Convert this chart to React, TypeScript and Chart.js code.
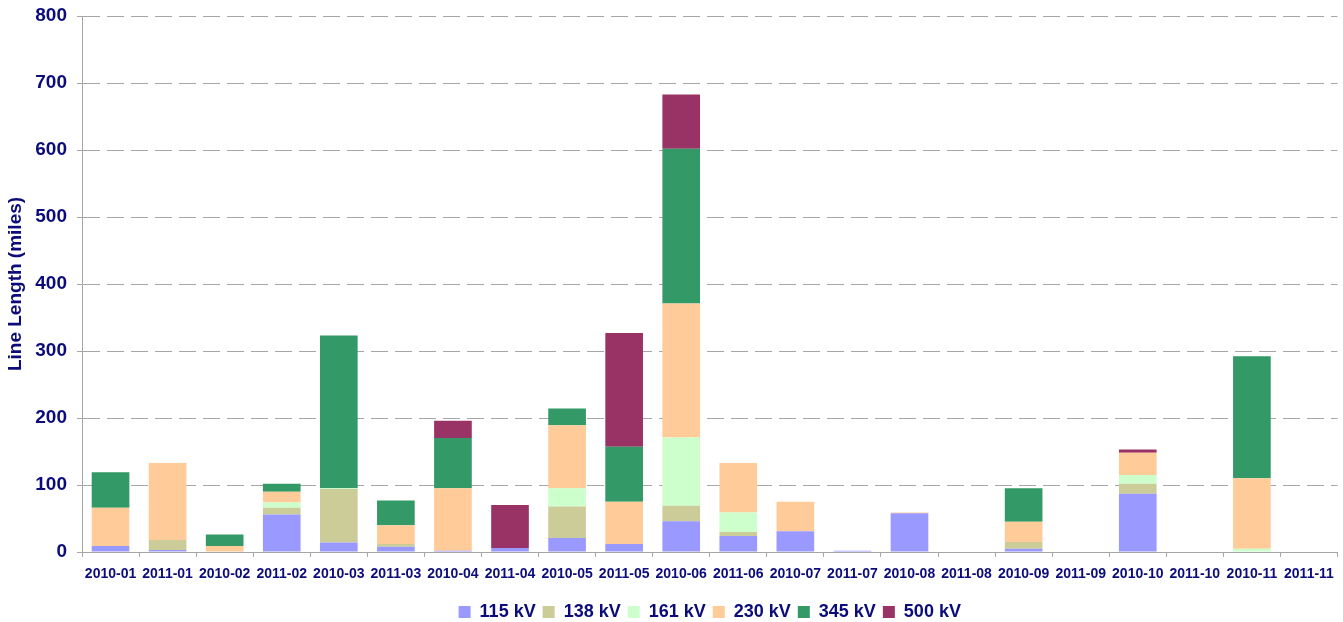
import React, { useEffect, useRef } from "react";
import { Chart, registerables } from "chart.js";

Chart.register(...registerables);

const categories = [
  "2010-01", "2011-01", "2010-02", "2011-02", "2010-03", "2011-03",
  "2010-04", "2011-04", "2010-05", "2011-05", "2010-06", "2011-06",
  "2010-07", "2011-07", "2010-08", "2011-08", "2010-09", "2011-09",
  "2010-10", "2011-10", "2010-11", "2011-11",
];

const kv115 = [9, 3, 0, 56, 14, 8, 2, 6, 21, 12, 46, 24, 31, 2, 58, 0, 5, 0, 87, 0, 0, 0];
const kv138 = [0, 15, 0, 10, 80, 4, 0, 0, 47, 0, 23, 6, 0, 0, 0, 0, 10, 0, 15, 0, 0, 0];
const kv161 = [0, 0, 0, 8, 1, 0, 0, 0, 27, 0, 102, 29, 0, 0, 0, 0, 0, 0, 13, 0, 5, 0];
const kv230 = [57, 115, 9, 16, 0, 28, 93, 0, 94, 63, 200, 74, 44, 0, 1, 0, 30, 0, 33, 0, 105, 0];
const kv345 = [53, 0, 17, 12, 228, 37, 75, 0, 25, 82, 231, 0, 0, 0, 0, 0, 50, 0, 0, 0, 182, 0];
const kv500 = [0, 0, 0, 0, 0, 0, 26, 64, 0, 170, 81, 0, 0, 0, 0, 0, 0, 0, 5, 0, 0, 0];

const seriesNames = ["115 kV", "138 kV", "161 kV", "230 kV", "345 kV", "500 kV"];
const seriesColors = ["#9999ff", "#cccc99", "#ccffcc", "#ffcc99", "#339966", "#993366"];
const seriesValues = [kv115, kv138, kv161, kv230, kv345, kv500];

const yTicks = [0, 100, 200, 300, 400, 500, 600, 700, 800];

const NAVY = "#0b0b7a";
const GRID = "#a6a6a6";
const FONT = "'Liberation Sans', Arial, sans-serif";

// centre the legend under the plot area instead of the whole canvas
const legendShift = {
  id: "legendShift",
  afterLayout(chart: any) {
    const lg = chart.legend;
    if (!lg) return;
    const plotCenter = (chart.chartArea.left + chart.chartArea.right) / 2;
    const cur = (lg.left + lg.right) / 2;
    const d = plotCenter - cur;
    lg.left += d;
    lg.right += d;
  },
};

export default function App() {
  const ref = useRef<HTMLCanvasElement | null>(null);

  useEffect(() => {
    if (!ref.current) return;
    const chart = new Chart(ref.current, {
      type: "bar",
      data: {
        labels: categories,
        datasets: seriesNames.map((name, i) => ({
          label: name,
          data: seriesValues[i],
          backgroundColor: seriesColors[i],
          borderWidth: 0,
          barPercentage: 0.66,
          categoryPercentage: 1,
        })),
      },
      plugins: [legendShift],
      options: {
        animation: false,
        responsive: true,
        maintainAspectRatio: false,
        layout: { padding: { left: 0, right: 5, top: 16, bottom: 0 } },
        plugins: {
          tooltip: { enabled: false },
          legend: {
            position: "bottom",
            labels: {
              boxWidth: 12,
              boxHeight: 12,
              padding: 7,
              color: NAVY,
              font: { family: FONT, size: 18, weight: "bold" },
            },
          },
        },
        scales: {
          x: {
            stacked: true,
            border: { display: true, color: GRID, width: 1 },
            grid: {
              display: true,
              drawOnChartArea: false,
              drawTicks: true,
              tickLength: 5,
              color: GRID,
              offset: true,
            },
            ticks: {
              color: NAVY,
              padding: 9,
              maxRotation: 0,
              autoSkip: false,
              font: { family: FONT, size: 14, weight: "bold" },
            },
            afterFit: (scale: any) => {
              scale.height = 44;
            },
          },
          y: {
            stacked: true,
            min: 0,
            max: 800,
            afterBuildTicks: (scale: any) => {
              scale.ticks = yTicks.map((v) => ({ value: v }));
            },
            border: { display: true, color: GRID, width: 1, dash: [17, 7] },
            grid: {
              color: GRID,
              lineWidth: 1,
              tickLength: 5,
              drawTicks: true,
            },
            ticks: {
              color: NAVY,
              padding: 10,
              font: { family: FONT, size: 19, weight: "bold" },
            },
            title: {
              display: true,
              text: "Line Length (miles)",
              color: NAVY,
              padding: { top: 4, bottom: 4 },
              font: { family: FONT, size: 19, weight: "bold" },
            },
            afterFit: (scale: any) => {
              scale.width = 82;
              scale.paddingTop = 0;
              scale.paddingBottom = 0;
            },
          },
        },
      },
    });
    return () => chart.destroy();
  }, []);

  return (
    <div style={{ position: "fixed", left: 0, top: 0, width: 1343, height: 631, background: "#fff" }}>
      <canvas ref={ref} />
    </div>
  );
}
